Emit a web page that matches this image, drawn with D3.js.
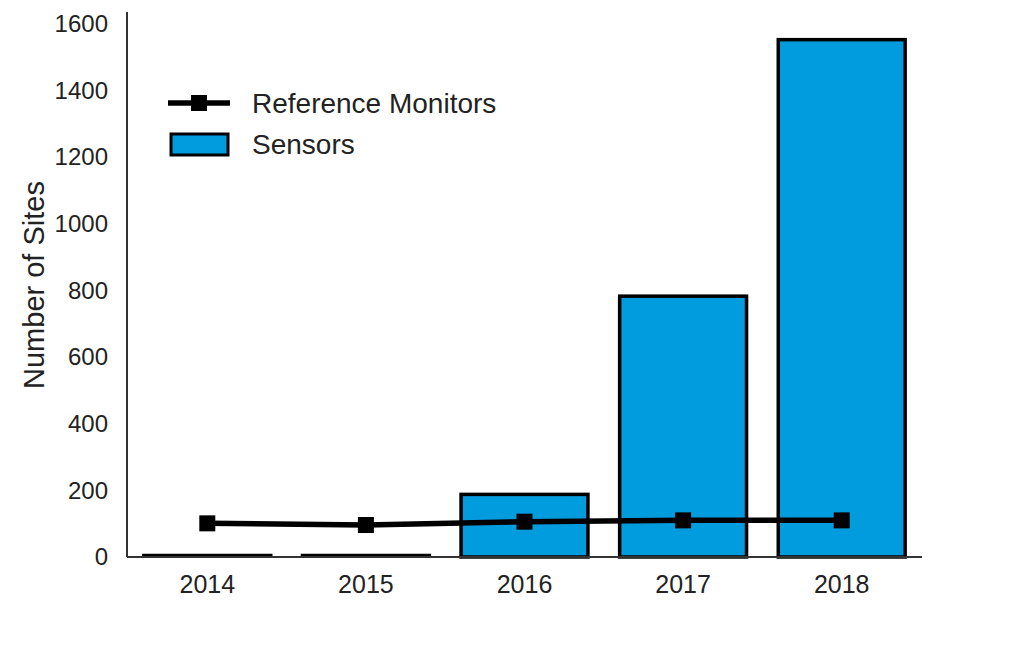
<!DOCTYPE html>
<html><head><meta charset="utf-8">
<script src="https://cdn.jsdelivr.net/npm/d3@7"></script>
<style>body{margin:0;background:#fff;} svg{display:block;font-family:"Liberation Sans",Arial,sans-serif;}</style>
</head><body>
<svg id="c" width="1024" height="647"></svg>
<script>
const years = ["2014","2015","2016","2017","2018"];
const sensors = [0, 0, 188, 783, 1553];
const refMonitors = [101, 96, 106, 110, 110];
const yTicks = [0,200,400,600,800,1000,1200,1400,1600];

const svg = d3.select("#c");
const x = d3.scaleBand().domain(years).range([128, 921]).paddingInner(0.2).paddingOuter(0.1);
const y = d3.scaleLinear().domain([0,1600]).range([557, 24]);
const blue = "#009CDE";
const FONT = "Liberation Sans, Arial, sans-serif";

// bars
svg.append("g").selectAll("rect").data(years).join("rect")
  .attr("x", d=>x(d)).attr("width", x.bandwidth())
  .attr("y", (d,i)=>y(sensors[i]) - (sensors[i]===0 ? 1.5 : 0))
  .attr("height",(d,i)=>Math.max(y(0)-y(sensors[i]), 0.01))
  .attr("fill", blue).attr("stroke","#000").attr("stroke-width",3.5);

// axes
const yAxis = d3.axisLeft(y).tickValues(yTicks).tickSize(0).tickPadding(19).tickFormat(d3.format("d"));
const gy = svg.append("g").attr("transform","translate(127,0)").call(yAxis);
gy.select(".domain").remove();
gy.selectAll("text").attr("font-size",24).attr("fill","#222").attr("font-family",FONT);
svg.append("line").attr("x1",127).attr("x2",127).attr("y1",12).attr("y2",557).attr("stroke","#333").attr("stroke-width",2);

const xAxis = d3.axisBottom(x).tickSize(0).tickPadding(18);
const gx = svg.append("g").attr("transform","translate(0,557)").call(xAxis);
gx.select(".domain").remove();
gx.selectAll("text").attr("font-size",25).attr("fill","#222").attr("font-family",FONT);
svg.append("line").attr("x1",127).attr("x2",922).attr("y1",557).attr("y2",557).attr("stroke","#333").attr("stroke-width",2);

// line
const cx = d=>x(d)+x.bandwidth()/2;
const line = d3.line().x((d,i)=>cx(years[i])).y(d=>y(d));
svg.append("path").datum(refMonitors).attr("d",line).attr("fill","none").attr("stroke","#000").attr("stroke-width",5.5);
svg.append("g").selectAll("rect").data(refMonitors).join("rect")
  .attr("x",(d,i)=>cx(years[i])-8).attr("y",d=>y(d)-8).attr("width",16).attr("height",16).attr("fill","#000");

// y label
svg.append("text").attr("transform","translate(44,285) rotate(-90)").attr("text-anchor","middle")
  .attr("font-size",29).attr("fill","#222").attr("font-family",FONT).text("Number of Sites");

// legend
const lg = svg.append("g");
lg.append("line").attr("x1",168).attr("x2",230).attr("y1",103).attr("y2",103).attr("stroke","#000").attr("stroke-width",5.5);
lg.append("rect").attr("x",191).attr("y",95).attr("width",16).attr("height",16).attr("fill","#000");
lg.append("text").attr("x",252).attr("y",113).attr("font-size",28).attr("fill","#222").attr("font-family",FONT).text("Reference Monitors");
lg.append("rect").attr("x",171).attr("y",134).attr("width",57).attr("height",21).attr("fill",blue).attr("stroke","#000").attr("stroke-width",3);
lg.append("text").attr("x",252).attr("y",154).attr("font-size",28).attr("fill","#222").attr("font-family",FONT).text("Sensors");
</script>
</body></html>
